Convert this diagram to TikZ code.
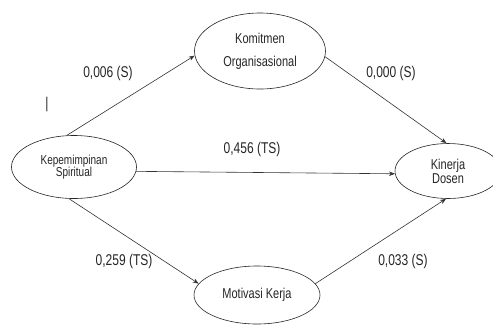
\documentclass[tikz,border=0pt]{standalone}
\usepackage{fontspec}
\setmainfont{Liberation Sans}
\newfontfamily\tallfont[FakeStretch=0.77]{Liberation Sans}
\usetikzlibrary{shapes.geometric,arrows.meta}
\begin{document}
\begin{tikzpicture}[x=1pt,y=-1pt,
  ell/.style={ellipse, draw=black!85, line width=0.6pt, inner sep=0pt, align=center, text=black!85},
  con/.style={draw=black!80, line width=0.6pt, -{Stealth[length=6pt,width=4.5pt]}},
  lbl/.style={font=\tallfont\fontsize{15.6}{18}\selectfont, text=black!85, inner sep=0pt}]
\useasboundingbox (0,0) rectangle (493,325);
\fill[white] (0,0) rectangle (493,325);
\node[ell, minimum width=131pt, minimum height=76pt, font=\tallfont\fontsize{14.3}{23}\selectfont] (kom) at (260,51) {Komitmen\\Organisasional};
\node[ell, minimum width=125pt, minimum height=63pt, font=\tallfont\fontsize{13}{12.5}\selectfont] (kep) at (74,167) {Kepemimpinan\\Spiritual};
\node[ell, minimum width=106pt, minimum height=55pt, font=\tallfont\fontsize{14.3}{14}\selectfont] (kin) at (448,171) {Kinerja\\Dosen};
\node[ell, minimum width=126pt, minimum height=58pt, font=\tallfont\fontsize{14.3}{16}\selectfont] (mot) at (257,295) {Motivasi Kerja};
\draw[con] (kep.103) -- (kom.184);
\draw[con] (kom.-5) -- (kin.93);
\draw[con] (kep.-4) -- (kin.183);
\draw[con] (kep.261) -- (mot.169);
\draw[con] (mot.11) -- (kin.266);
\node[lbl] (l1) at (108,73) {0,006 (S)};
\node[lbl] (l2) at (391,73) {0,000 (S)};
\node[lbl] (l3) at (252,149) {0,456 (TS)};
\node[lbl] (l4) at (124,261) {0,259 (TS)};
\node[lbl] (l5) at (403,261) {0,033 (S)};
\node[lbl] (bar) at (47,104) {|};
\end{tikzpicture}
\end{document}
